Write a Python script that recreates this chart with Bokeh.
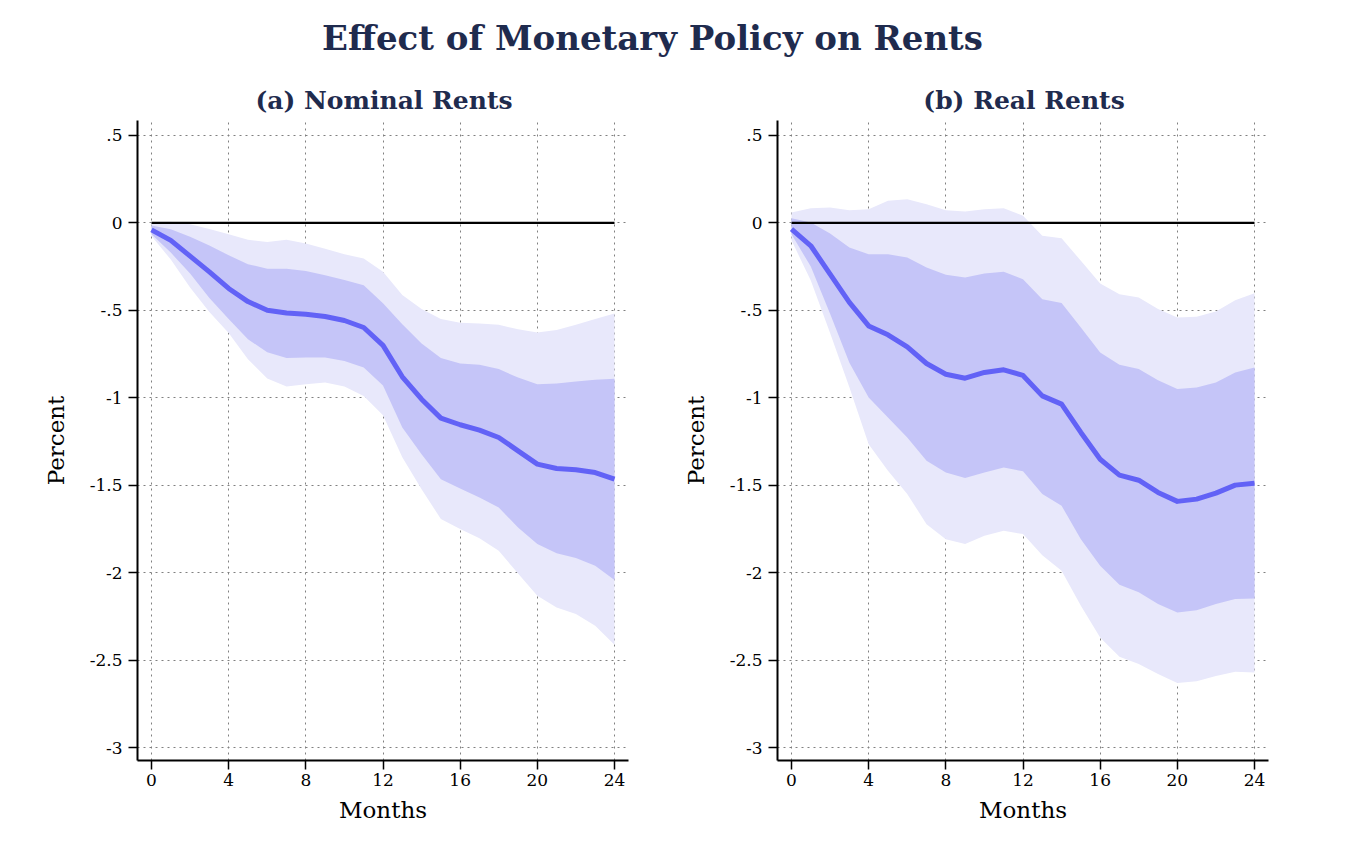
from bokeh.plotting import figure
from bokeh.layouts import column, row
from bokeh.models import Range1d, FixedTicker
from bokeh.embed import file_html
from bokeh.resources import INLINE
from bokeh.core.properties import value

# ---------------- data ----------------
months = list(range(25))

nominal_irf = [-0.04, -0.10, -0.19, -0.28, -0.375, -0.45, -0.50, -0.515, -0.522, -0.535,
               -0.558, -0.598, -0.70, -0.88, -1.008, -1.116, -1.154, -1.185, -1.227, -1.303,
               -1.379, -1.404, -1.411, -1.427, -1.465]
nominal_inner_up = [-0.015, -0.036, -0.08, -0.13, -0.185, -0.236, -0.263, -0.263, -0.275, -0.30,
                    -0.326, -0.356, -0.46, -0.58, -0.69, -0.773, -0.804, -0.811, -0.836, -0.884,
                    -0.922, -0.918, -0.907, -0.897, -0.891]
nominal_inner_lo = [-0.065, -0.17, -0.29, -0.43, -0.55, -0.665, -0.74, -0.773, -0.77, -0.77,
                    -0.789, -0.827, -0.93, -1.17, -1.322, -1.465, -1.518, -1.57, -1.627, -1.741,
                    -1.836, -1.888, -1.916, -1.96, -2.042]
nominal_outer_up = [0.005, 0.006, -0.008, -0.035, -0.065, -0.097, -0.11, -0.097, -0.118, -0.148,
                    -0.179, -0.204, -0.28, -0.413, -0.493, -0.55, -0.571, -0.575, -0.583, -0.608,
                    -0.627, -0.613, -0.583, -0.55, -0.518]
nominal_outer_lo = [-0.075, -0.21, -0.37, -0.51, -0.63, -0.78, -0.89, -0.935, -0.922, -0.912,
                    -0.935, -0.99, -1.10, -1.34, -1.522, -1.693, -1.75, -1.802, -1.874, -2.004,
                    -2.131, -2.198, -2.236, -2.303, -2.411]

real_irf = [-0.036, -0.131, -0.293, -0.455, -0.589, -0.64, -0.709, -0.804, -0.865, -0.888,
            -0.855, -0.84, -0.872, -0.989, -1.036, -1.198, -1.351, -1.442, -1.471, -1.541,
            -1.592, -1.579, -1.545, -1.499, -1.488]
real_inner_up = [0.027, 0.002, -0.061, -0.141, -0.179, -0.179, -0.198, -0.255, -0.297, -0.312,
                 -0.289, -0.28, -0.322, -0.436, -0.458, -0.598, -0.741, -0.811, -0.836, -0.899,
                 -0.95, -0.941, -0.912, -0.855, -0.827]
real_inner_lo = [-0.065, -0.25, -0.52, -0.80, -0.998, -1.112, -1.227, -1.36, -1.427, -1.459,
                 -1.427, -1.398, -1.42, -1.55, -1.617, -1.808, -1.96, -2.069, -2.112, -2.179,
                 -2.227, -2.214, -2.179, -2.15, -2.147]
real_outer_up = [0.059, 0.084, 0.088, 0.072, 0.078, 0.126, 0.135, 0.107, 0.072, 0.065,
                 0.078, 0.084, 0.04, -0.074, -0.088, -0.217, -0.347, -0.408, -0.427, -0.493,
                 -0.541, -0.537, -0.507, -0.442, -0.402]
real_outer_lo = [-0.10, -0.33, -0.63, -0.94, -1.265, -1.417, -1.55, -1.722, -1.808, -1.836,
                 -1.789, -1.76, -1.779, -1.90, -1.989, -2.189, -2.37, -2.48, -2.522, -2.579,
                 -2.63, -2.62, -2.59, -2.566, -2.57]

x_ticks = [0, 4, 8, 12, 16, 20, 24]
y_ticks = [0.5, 0, -0.5, -1, -1.5, -2, -2.5, -3]
y_tick_labels = [".5", "0", "-.5", "-1", "-1.5", "-2", "-2.5", "-3"]

main_title = "Effect of Monetary Policy on Rents"
panel_titles = ["(a) Nominal Rents", "(b) Real Rents"]
x_label = "Months"
y_label = "Percent"

# ---------------- style ----------------
FONT = "DejaVu Serif"
NAVY = "#1f2b4e"
LINE_C = "#6262f6"
INNER_C = "#c5c5f8"
OUTER_C = "#e8e8fb"
GRID_C = "#808080"


def make_panel(irf, in_up, in_lo, out_up, out_lo):
    p = figure(width=640, height=725,
               x_range=Range1d(-0.726, 24.726), y_range=Range1d(-3.073, 0.585),
               output_backend="svg", toolbar_location=None,
               min_border_left=137, min_border_right=12, min_border_top=0,
               min_border_bottom=85, outline_line_color=None,
               background_fill_color="white", border_fill_color="white")
    p.varea(x=months, y1=out_lo, y2=out_up, fill_color=OUTER_C, fill_alpha=1.0)
    p.varea(x=months, y1=in_lo, y2=in_up, fill_color=INNER_C, fill_alpha=1.0)
    p.segment(x0=[months[0]], x1=[months[-1]], y0=[0], y1=[0],
              line_color="black", line_width=2.2)
    p.line(months, irf, line_color=LINE_C, line_width=5, line_join="round")

    p.xaxis.ticker = FixedTicker(ticks=x_ticks)
    p.yaxis.ticker = FixedTicker(ticks=y_ticks)
    p.yaxis.major_label_overrides = {t: l for t, l in zip(y_ticks, y_tick_labels)}
    p.xaxis.axis_label = x_label
    p.yaxis.axis_label = y_label
    for ax in (p.xaxis, p.yaxis):
        ax.axis_line_width = 2
        ax.axis_line_color = "black"
        ax.major_tick_line_color = "black"
        ax.major_tick_line_width = 1.5
        ax.major_tick_out = 9
        ax.major_tick_in = 0
        ax.minor_tick_line_color = None
        ax.major_label_text_font = FONT
        ax.major_label_text_font_size = "17px"
        ax.major_label_text_color = "black"
        ax.axis_label_text_font = FONT
        ax.axis_label_text_font_size = "23px"
        ax.axis_label_text_font_style = "normal"
        ax.axis_label_text_color = "black"
    p.xaxis.major_label_standoff = 4
    p.xaxis.axis_label_standoff = 8
    p.yaxis.major_label_standoff = 6
    p.yaxis.axis_label_standoff = 18

    p.xgrid.ticker = FixedTicker(ticks=x_ticks)
    p.ygrid.ticker = FixedTicker(ticks=y_ticks)
    for g in (p.xgrid, p.ygrid):
        g.grid_line_color = GRID_C
        g.grid_line_width = 1
        g.grid_line_dash = "2 4"
    return p


p1 = make_panel(nominal_irf, nominal_inner_up, nominal_inner_lo, nominal_outer_up, nominal_outer_lo)
p2 = make_panel(real_irf, real_inner_up, real_inner_lo, real_outer_up, real_outer_lo)

# header with titles (screen-like coordinates)
head = figure(width=1280, height=120, x_range=Range1d(0, 1280), y_range=Range1d(120, 0),
              output_backend="svg", toolbar_location=None,
              x_axis_location=None, y_axis_location=None,
              min_border=0, outline_line_color=None)
head.xgrid.visible = False
head.ygrid.visible = False
head.text(x=[652], y=[37], text=[main_title], text_align="center", text_baseline="middle",
          text_font=value(FONT), text_font_style="bold", text_font_size="34px", text_color=NAVY)
head.text(x=[383.5, 1023.5], y=[100, 100], text=panel_titles, text_align="center",
          text_baseline="middle", text_font=value(FONT), text_font_style="bold",
          text_font_size="25px", text_color=NAVY)

layout = column(head, row(p1, p2))
open("out.html", "w").write(file_html(layout, INLINE))
